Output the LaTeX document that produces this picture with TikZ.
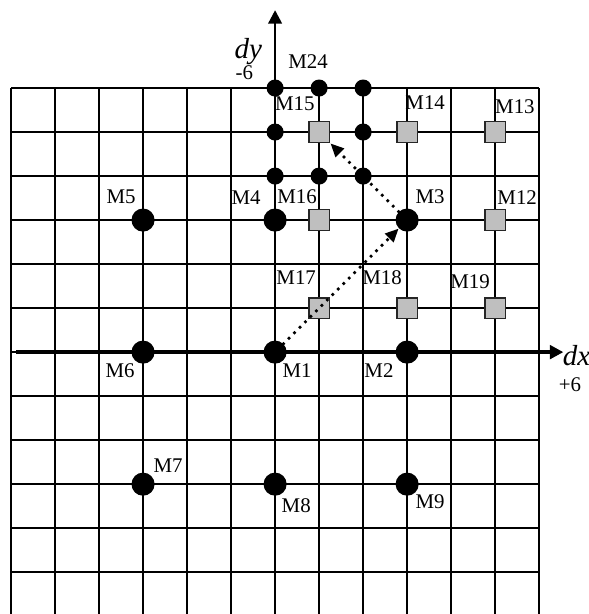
\documentclass[tikz,border=0pt]{standalone}
\usepackage{fontspec}
\setmainfont{Liberation Serif}
\usetikzlibrary{arrows.meta}
\tikzset{
  big/.style  ={circle, fill=black, minimum size=4.2mm, inner sep=0pt},
  dot/.style  ={circle, fill=black, minimum size=3.1mm, inner sep=0pt},
  sq/.style   ={rectangle, draw=black!85, fill=black!25, line width=0.9pt, minimum size=3.8mm, inner sep=0pt},
  lbl/.style  ={inner sep=0pt, font=\fontsize{10.8}{12}\selectfont},
  axlbl/.style={inner sep=0pt, font=\fontsize{15}{17}\selectfont\itshape},
  gridln/.style={line width=0.85pt},
  haxis/.style={-{Triangle[length=7pt, width=7pt]}, line width=2pt},
  vaxis/.style={-{Triangle[length=7pt, width=7pt]}, line width=1.3pt},
  mv/.style   ={-{Triangle[length=7pt, width=6pt]}, line width=1.9pt, dash pattern=on 0pt off 4pt, line cap=round},
}

\begin{document}
\begin{tikzpicture}[x=0.8cm, y=0.8cm]
        \useasboundingbox (-6.25,-5.95) rectangle (7.11,8);
        \draw[gridln, step=1] (-6,-5.95) grid (6,6);
        \coordinate (xs) at (-5.89,0);
        \coordinate (xe) at (6.55,0);
        \coordinate (ys) at (0,-4.16);
        \coordinate (ye) at (0,7.77);
        \draw[haxis] (xs) -- (xe);
        \draw[vaxis] (ys) -- (ye);
        \node[axlbl, anchor=west] (dx) at (6.53,-0.09) {dx};
        \node[lbl] (px) at (6.7,-0.75) {+6};
        \node[axlbl] (dy) at (-0.61,6.82) {dy};
        \node[lbl] (my) at (-0.70,6.34) {-6};
        % step 3
        \node[big] (M1) at (0,0) {};
        \node[big] (M2) at (3,0) {};
        \node[big] (M3) at (3,3) {};
        \node[big] (M4) at (0,3) {};
        \node[big] (M5) at (-3,3) {};
        \node[big] (M6) at (-3,0) {};
        \node[big] (M7) at (-3,-3) {};
        \node[big] (M8) at (0,-3) {};
        \node[big] (M9) at (3,-3) {};
        % step 2
        \node[sq] (M12) at (5,3) {};
        \node[sq] (M13) at (5,5) {};
        \node[sq] (M14) at (3,5) {};
        \node[sq] (M15) at (1,5) {};
        \node[sq] (M16) at (1,3) {};
        \node[sq] (M17) at (1,1) {};
        \node[sq] (M18) at (3,1) {};
        \node[sq] (M19) at (5,1) {};
        % step 1
        \node[dot] (M24) at (1,6) {};
        \node[dot] (p1) at (0,6) {};
        \node[dot] (p2) at (2,6) {};
        \node[dot] (p3) at (0,5) {};
        \node[dot] (p4) at (2,5) {};
        \node[dot] (p5) at (0,4) {};
        \node[dot] (p6) at (1,4) {};
        \node[dot] (p7) at (2,4) {};
        \draw[mv] (M1) -- (M3);
        \draw[mv] (M3) -- (M15);
        \node[lbl] (lM24) at (0.75,6.59) {M24};
        \node[lbl] (lM15) at (0.45,5.65) {M15};
        \node[lbl] (lM14) at (3.41,5.66) {M14};
        \node[lbl] (lM13) at (5.45,5.57) {M13};
        \node[lbl] (lM5)  at (-3.5,3.52) {M5};
        \node[lbl] (lM4)  at (-0.66,3.52) {M4};
        \node[lbl] (lM16) at (0.5,3.52) {M16};
        \node[lbl] (lM3)  at (3.52,3.52) {M3};
        \node[lbl] (lM12) at (5.5,3.52) {M12};
        \node[lbl] (lM17) at (0.48,1.70) {M17};
        \node[lbl] (lM18) at (2.43,1.70) {M18};
        \node[lbl] (lM19) at (4.43,1.61) {M19};
        \node[lbl] (lM6)  at (-3.52,-0.43) {M6};
        \node[lbl] (lM1)  at (0.5,-0.43) {M1};
        \node[lbl] (lM2)  at (2.36,-0.41) {M2};
        \node[lbl] (lM7)  at (-2.43,-2.59) {M7};
        \node[lbl] (lM8)  at (0.48,-3.48) {M8};
        \node[lbl] (lM9)  at (3.52,-3.39) {M9};
      \end{tikzpicture}
\end{document}
